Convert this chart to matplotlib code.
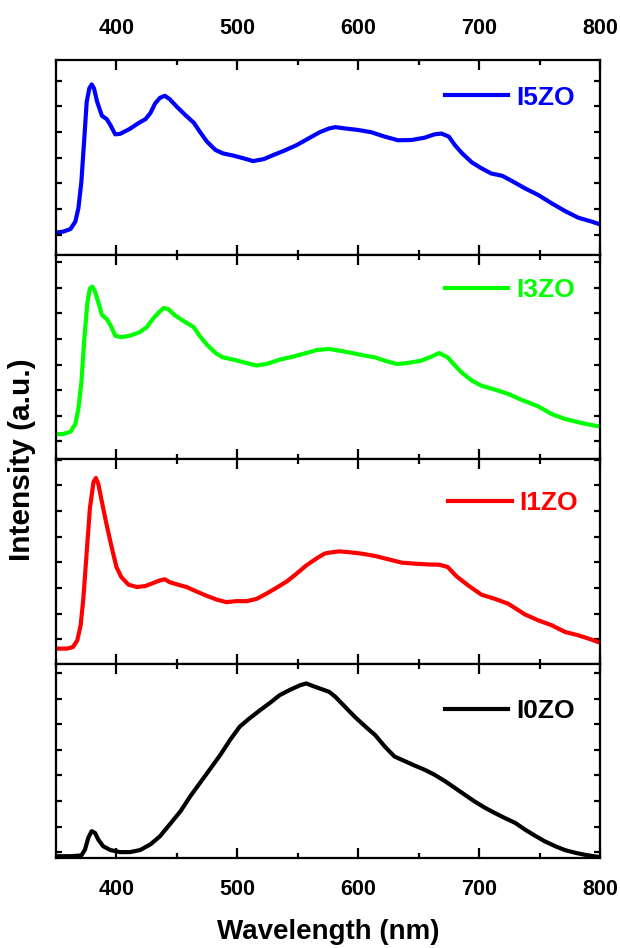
import matplotlib.pyplot as plt
from matplotlib.ticker import MultipleLocator

plt.rcParams['font.family'] = ['Liberation Sans', 'DejaVu Sans']
plt.rcParams['font.weight'] = 'bold'

# PL spectra, intensity in arbitrary units
wl_i5 = [350, 356, 362, 366, 368.5, 371, 373.4, 375.4, 377.6, 379.5, 381.4, 384, 388, 392, 395,
         399, 403, 411, 418, 424, 428, 432, 436, 440, 444, 450, 457, 464, 469, 475, 482, 488,
         497, 505, 513, 522, 530, 538, 549, 560, 568, 576, 581, 589, 600, 611, 622, 633, 644,
         655, 663, 669, 675, 680, 686, 694, 702, 710, 719, 727, 738, 749, 760, 771, 782, 793, 800]
int_i5 = [1.09, 1.13, 1.23, 1.52, 2.03, 3.07, 4.75, 6.18, 6.70, 6.85, 6.70, 6.18, 5.63, 5.50, 5.27,
          4.91, 4.93, 5.12, 5.34, 5.50, 5.73, 6.11, 6.33, 6.41, 6.28, 5.98, 5.66, 5.36, 5.01, 4.62,
          4.30, 4.17, 4.08, 3.98, 3.87, 3.95, 4.11, 4.26, 4.49, 4.78, 4.99, 5.14, 5.19, 5.14, 5.08,
          4.99, 4.82, 4.68, 4.69, 4.78, 4.91, 4.94, 4.82, 4.49, 4.17, 3.82, 3.59, 3.39, 3.30, 3.10,
          2.81, 2.55, 2.23, 1.93, 1.67, 1.52, 1.41]

wl_i3 = [350, 356, 362, 366, 368.5, 371, 373.4, 376, 378, 380, 382, 385, 388, 392, 395, 399,
         404, 411, 419, 425, 430, 435, 439, 443, 448, 455, 464, 469, 475, 482, 488, 497, 505,
         516, 524, 535, 546, 557, 566, 576, 581, 592, 603, 614, 622, 632, 641, 652, 661, 667,
         674, 680, 686, 694, 702, 713, 724, 735, 749, 760, 771, 782, 793, 800]
int_i3 = [1.27, 1.28, 1.37, 1.67, 2.26, 3.30, 5.00, 6.44, 6.98, 7.05, 6.89, 6.44, 5.94, 5.78,
          5.55, 5.13, 5.07, 5.13, 5.26, 5.46, 5.78, 6.04, 6.21, 6.17, 5.94, 5.72, 5.46, 5.11,
          4.77, 4.45, 4.28, 4.19, 4.09, 3.96, 4.02, 4.19, 4.31, 4.45, 4.57, 4.61, 4.57, 4.48,
          4.37, 4.28, 4.15, 4.02, 4.06, 4.15, 4.32, 4.45, 4.28, 3.96, 3.67, 3.37, 3.17, 3.02,
          2.85, 2.62, 2.36, 2.06, 1.87, 1.74, 1.63, 1.57]

wl_i1 = [350, 359, 364, 367.6, 370.4, 372.6, 375.4, 378, 381, 383, 385, 388, 392, 396, 400,
         404, 410, 417, 424, 430, 436, 440, 444, 451, 458, 466, 475, 483, 491, 499, 508, 516,
         524, 532, 541, 549, 557, 566, 572, 576, 584, 592, 603, 614, 625, 636, 647, 658, 667,
         674, 681, 691, 702, 713, 724, 738, 749, 760, 771, 782, 793, 800]
int_i1 = [0.64, 0.64, 0.70, 0.96, 1.55, 2.58, 4.40, 6.09, 7.13, 7.29, 7.06, 6.35, 5.44, 4.60,
          3.82, 3.43, 3.13, 3.04, 3.08, 3.19, 3.30, 3.34, 3.23, 3.13, 3.04, 2.87, 2.69, 2.55,
          2.45, 2.49, 2.49, 2.58, 2.78, 3.00, 3.26, 3.56, 3.88, 4.17, 4.34, 4.38, 4.43, 4.40,
          4.34, 4.25, 4.12, 3.99, 3.95, 3.92, 3.91, 3.82, 3.47, 3.10, 2.74, 2.58, 2.39, 1.97,
          1.74, 1.55, 1.29, 1.16, 0.99, 0.87]

wl_i0 = [350, 362, 371, 374, 376.7, 379.5, 382.3, 385, 389, 395, 403, 411, 419.5, 428, 436,
         444, 453, 461, 469, 477, 486, 494, 502, 510, 519, 527, 535, 544, 552, 557, 563, 576,
         581, 589, 597, 606, 614, 622, 630, 639, 647, 655, 663, 672, 680, 688, 696, 705, 713,
         721, 730, 738, 746, 754, 763, 771, 779, 787, 800]
int_i0 = [0.84, 0.84, 0.87, 1.10, 1.56, 1.82, 1.75, 1.49, 1.23, 1.08, 1.00, 1.00, 1.08, 1.30,
          1.62, 2.08, 2.60, 3.18, 3.70, 4.22, 4.81, 5.39, 5.91, 6.23, 6.56, 6.84, 7.14, 7.36,
          7.53, 7.60, 7.49, 7.27, 7.08, 6.69, 6.30, 5.91, 5.58, 5.13, 4.74, 4.55, 4.38, 4.22,
          4.03, 3.77, 3.51, 3.25, 2.99, 2.73, 2.53, 2.34, 2.14, 1.88, 1.65, 1.43, 1.23, 1.08,
          0.98, 0.90, 0.80]

labels = ['I5ZO', 'I3ZO', 'I1ZO', 'I0ZO']
colors = ['#0000FF', '#00FF00', '#FF0000', '#000000']
series = [(wl_i5, int_i5), (wl_i3, int_i3), (wl_i1, int_i1), (wl_i0, int_i0)]
ylims = [(0.22, 7.80), (0.30, 8.29), (0.04, 8.03), (0.77, 8.36)]
leg_pos = [(0.954, 0.807), (0.954, 0.827), (0.960, 0.785), (0.954, 0.758)]

W, H = 620, 948
edges = [60, 255, 459, 664, 858]
left, right = 56, 600

fig = plt.figure(figsize=(W / 100, H / 100), dpi=100)
axes = []
for i in range(4):
    top, bot = edges[i], edges[i + 1]
    ax = fig.add_axes([left / W, 1 - bot / H, (right - left) / W, (bot - top) / H])
    x, y = series[i]
    ax.plot(x, y, color=colors[i], lw=3.0, label=labels[i])
    ax.set_xlim(350, 800)
    ax.set_ylim(*ylims[i])
    ax.xaxis.set_major_locator(MultipleLocator(100))
    ax.xaxis.set_minor_locator(MultipleLocator(50))
    ax.yaxis.set_major_locator(MultipleLocator(1))
    ax.tick_params(axis='x', which='major', direction='in', top=True, bottom=True,
                   length=7, width=1.6, labelsize=15.5, pad=15,
                   labelbottom=(i == 3), labeltop=(i == 0))
    ax.tick_params(axis='x', which='minor', direction='in', top=True, bottom=True,
                   length=3.5, width=1.6)
    ax.tick_params(axis='y', which='major', direction='in', left=True, right=True,
                   length=4.5, width=1.6, labelleft=False)
    for s in ax.spines.values():
        s.set_linewidth(1.6)
    leg = ax.legend(loc='center right', bbox_to_anchor=leg_pos[i], frameon=False,
                    fontsize=19, handlelength=2.4, handletextpad=0.3,
                    borderpad=0, borderaxespad=0, labelcolor='linecolor')
    for t in leg.get_texts():
        t.set_fontweight('bold')
    axes.append(ax)

axes[3].set_xlabel('Wavelength (nm)', fontsize=20, fontweight='bold', labelpad=14)
fig.text(22 / W, 1 - 460 / H, 'Intensity (a.u.)', rotation=90, fontsize=21.5,
         fontweight='bold', ha='center', va='center')

fig.savefig('out.png', dpi=100)
